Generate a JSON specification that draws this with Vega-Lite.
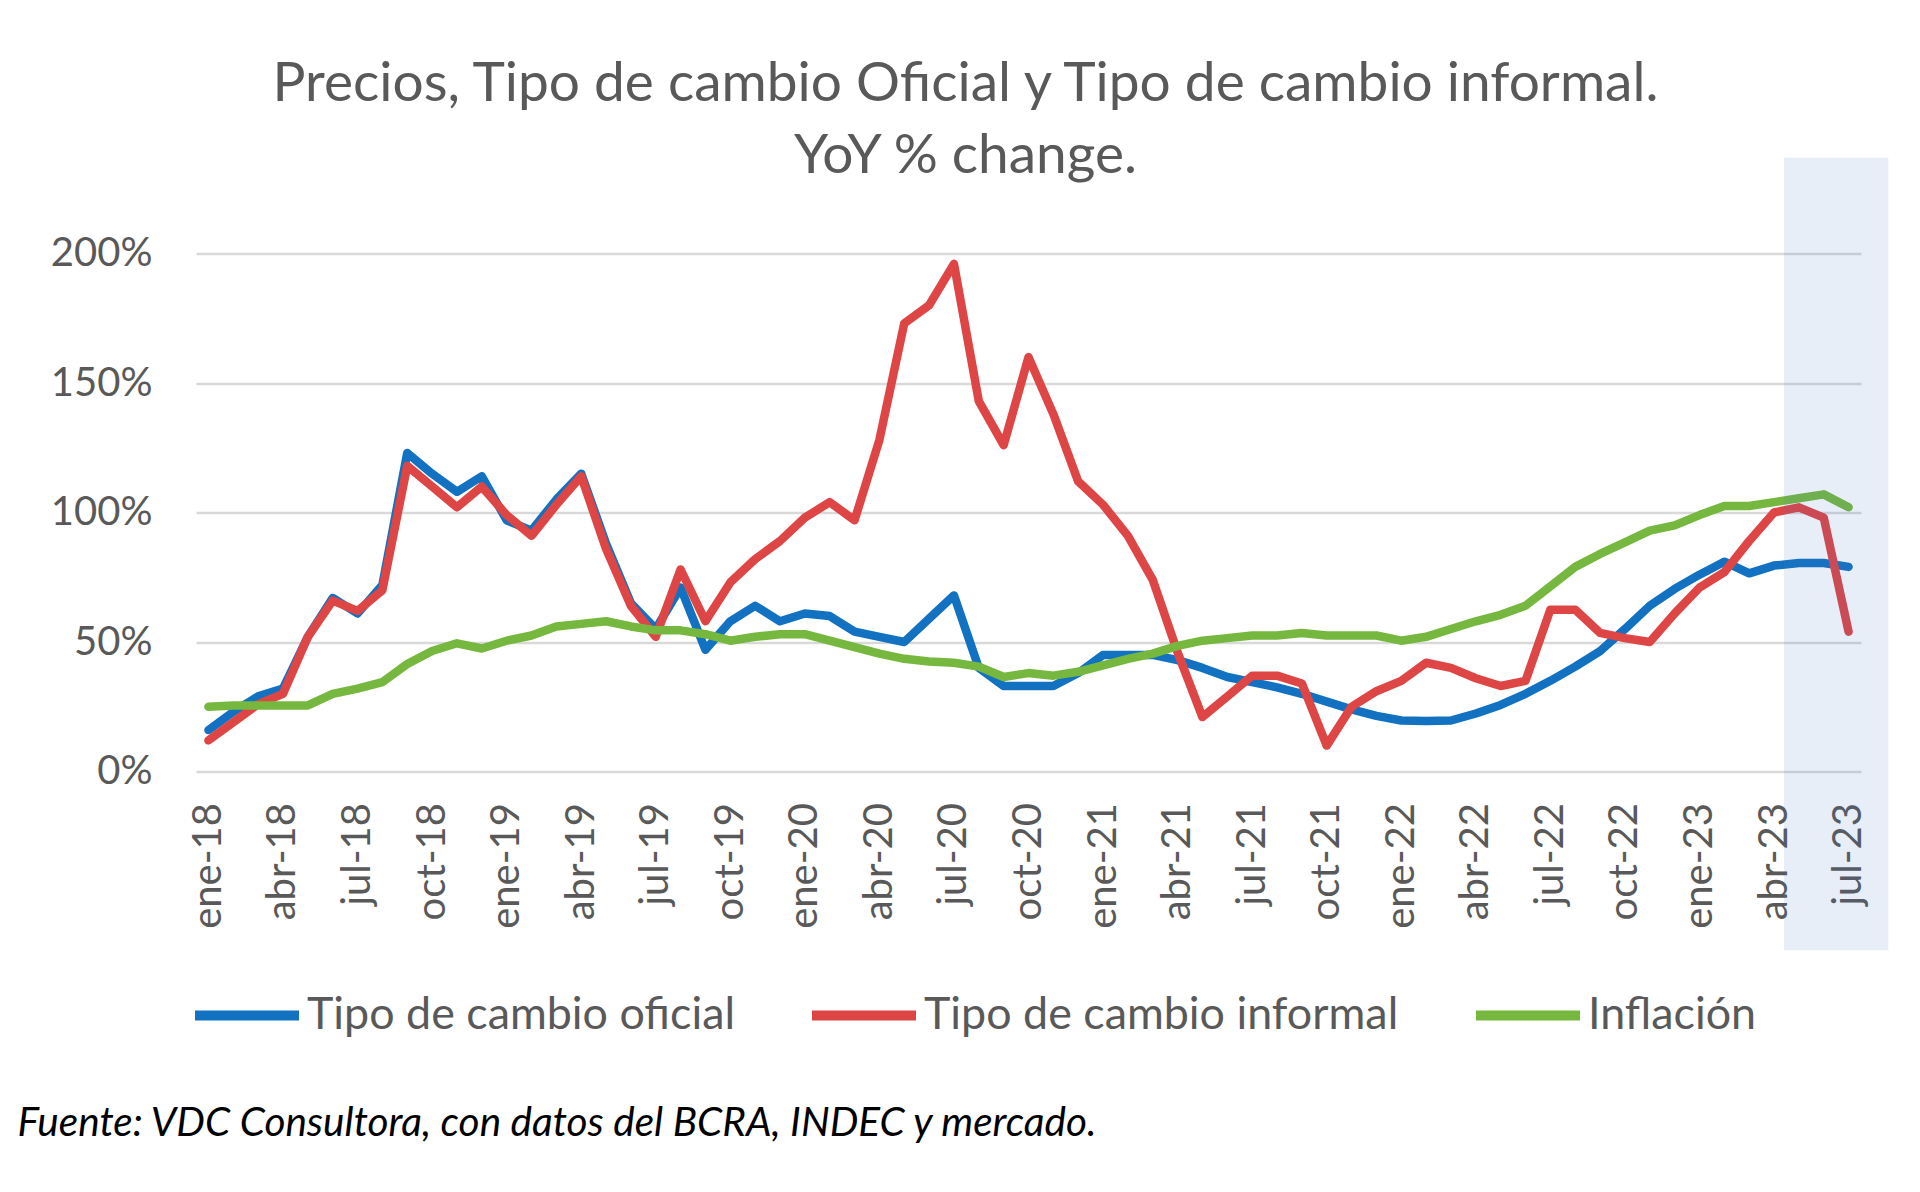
{
  "$schema": "https://vega.github.io/schema/vega-lite/v6.json",
  "width": 1665,
  "height": 518,
  "autosize": {"type": "none"},
  "padding": {"left": 196, "top": 253.5, "right": 59, "bottom": 420.5},
  "background": "white",
  "config": {"view": {"stroke": null}, "font": "Lato"},
  "title": {
    "text": ["Precios, Tipo de cambio Oficial y Tipo de cambio informal.", "YoY % change."],
    "fontSize": 55,
    "lineHeight": 72,
    "font": "Lato",
    "fontWeight": "normal",
    "color": "#595959",
    "anchor": "middle",
    "dx": -63,
    "dy": 97,
    "offset": 70
  },
  "datasets": {
    "series": [
      {"mes": "ene-18", "n": 0, "Tipo de cambio oficial": 16, "Tipo de cambio informal": 12, "Inflación": 25},
      {"mes": "feb-18", "n": 1, "Tipo de cambio oficial": 23, "Tipo de cambio informal": 19, "Inflación": 25.5},
      {"mes": "mar-18", "n": 2, "Tipo de cambio oficial": 29, "Tipo de cambio informal": 26, "Inflación": 25.5},
      {"mes": "abr-18", "n": 3, "Tipo de cambio oficial": 32, "Tipo de cambio informal": 30, "Inflación": 25.5},
      {"mes": "may-18", "n": 4, "Tipo de cambio oficial": 52, "Tipo de cambio informal": 52, "Inflación": 25.5},
      {"mes": "jun-18", "n": 5, "Tipo de cambio oficial": 67, "Tipo de cambio informal": 66, "Inflación": 30},
      {"mes": "jul-18", "n": 6, "Tipo de cambio oficial": 61, "Tipo de cambio informal": 62, "Inflación": 32},
      {"mes": "ago-18", "n": 7, "Tipo de cambio oficial": 72, "Tipo de cambio informal": 70, "Inflación": 34.5},
      {"mes": "sep-18", "n": 8, "Tipo de cambio oficial": 123, "Tipo de cambio informal": 118, "Inflación": 41.5},
      {"mes": "oct-18", "n": 9, "Tipo de cambio oficial": 115, "Tipo de cambio informal": 110, "Inflación": 46.5},
      {"mes": "nov-18", "n": 10, "Tipo de cambio oficial": 108, "Tipo de cambio informal": 102, "Inflación": 49.5},
      {"mes": "dic-18", "n": 11, "Tipo de cambio oficial": 114, "Tipo de cambio informal": 110, "Inflación": 47.5},
      {"mes": "ene-19", "n": 12, "Tipo de cambio oficial": 97, "Tipo de cambio informal": 99, "Inflación": 50.5},
      {"mes": "feb-19", "n": 13, "Tipo de cambio oficial": 93, "Tipo de cambio informal": 91, "Inflación": 52.5},
      {"mes": "mar-19", "n": 14, "Tipo de cambio oficial": 105, "Tipo de cambio informal": 103, "Inflación": 56},
      {"mes": "abr-19", "n": 15, "Tipo de cambio oficial": 115, "Tipo de cambio informal": 114, "Inflación": 57},
      {"mes": "may-19", "n": 16, "Tipo de cambio oficial": 88, "Tipo de cambio informal": 86, "Inflación": 58},
      {"mes": "jun-19", "n": 17, "Tipo de cambio oficial": 65, "Tipo de cambio informal": 64, "Inflación": 56},
      {"mes": "jul-19", "n": 18, "Tipo de cambio oficial": 55, "Tipo de cambio informal": 52, "Inflación": 54.5},
      {"mes": "ago-19", "n": 19, "Tipo de cambio oficial": 71, "Tipo de cambio informal": 78, "Inflación": 54.5},
      {"mes": "sep-19", "n": 20, "Tipo de cambio oficial": 47, "Tipo de cambio informal": 58, "Inflación": 53},
      {"mes": "oct-19", "n": 21, "Tipo de cambio oficial": 58, "Tipo de cambio informal": 73, "Inflación": 50.5},
      {"mes": "nov-19", "n": 22, "Tipo de cambio oficial": 64, "Tipo de cambio informal": 82, "Inflación": 52},
      {"mes": "dic-19", "n": 23, "Tipo de cambio oficial": 58, "Tipo de cambio informal": 89, "Inflación": 53},
      {"mes": "ene-20", "n": 24, "Tipo de cambio oficial": 61, "Tipo de cambio informal": 98, "Inflación": 53},
      {"mes": "feb-20", "n": 25, "Tipo de cambio oficial": 60, "Tipo de cambio informal": 104, "Inflación": 50.5},
      {"mes": "mar-20", "n": 26, "Tipo de cambio oficial": 54, "Tipo de cambio informal": 97, "Inflación": 48},
      {"mes": "abr-20", "n": 27, "Tipo de cambio oficial": 52, "Tipo de cambio informal": 128, "Inflación": 45.5},
      {"mes": "may-20", "n": 28, "Tipo de cambio oficial": 50, "Tipo de cambio informal": 173, "Inflación": 43.5},
      {"mes": "jun-20", "n": 29, "Tipo de cambio oficial": 59, "Tipo de cambio informal": 180, "Inflación": 42.5},
      {"mes": "jul-20", "n": 30, "Tipo de cambio oficial": 68, "Tipo de cambio informal": 196, "Inflación": 42},
      {"mes": "ago-20", "n": 31, "Tipo de cambio oficial": 40, "Tipo de cambio informal": 143, "Inflación": 40.5},
      {"mes": "sep-20", "n": 32, "Tipo de cambio oficial": 33, "Tipo de cambio informal": 126, "Inflación": 36.5},
      {"mes": "oct-20", "n": 33, "Tipo de cambio oficial": 33, "Tipo de cambio informal": 160, "Inflación": 38},
      {"mes": "nov-20", "n": 34, "Tipo de cambio oficial": 33, "Tipo de cambio informal": 138, "Inflación": 37},
      {"mes": "dic-20", "n": 35, "Tipo de cambio oficial": 38, "Tipo de cambio informal": 112, "Inflación": 38.5},
      {"mes": "ene-21", "n": 36, "Tipo de cambio oficial": 45, "Tipo de cambio informal": 103, "Inflación": 41},
      {"mes": "feb-21", "n": 37, "Tipo de cambio oficial": 45, "Tipo de cambio informal": 91, "Inflación": 43.5},
      {"mes": "mar-21", "n": 38, "Tipo de cambio oficial": 45, "Tipo de cambio informal": 74, "Inflación": 45.5},
      {"mes": "abr-21", "n": 39, "Tipo de cambio oficial": 43, "Tipo de cambio informal": 46, "Inflación": 48.5},
      {"mes": "may-21", "n": 40, "Tipo de cambio oficial": 40, "Tipo de cambio informal": 21, "Inflación": 50.5},
      {"mes": "jun-21", "n": 41, "Tipo de cambio oficial": 36.5, "Tipo de cambio informal": 29, "Inflación": 51.5},
      {"mes": "jul-21", "n": 42, "Tipo de cambio oficial": 34.5, "Tipo de cambio informal": 37, "Inflación": 52.5},
      {"mes": "ago-21", "n": 43, "Tipo de cambio oficial": 32.5, "Tipo de cambio informal": 37, "Inflación": 52.5},
      {"mes": "sep-21", "n": 44, "Tipo de cambio oficial": 30, "Tipo de cambio informal": 34, "Inflación": 53.5},
      {"mes": "oct-21", "n": 45, "Tipo de cambio oficial": 27, "Tipo de cambio informal": 10, "Inflación": 52.5},
      {"mes": "nov-21", "n": 46, "Tipo de cambio oficial": 24, "Tipo de cambio informal": 25, "Inflación": 52.5},
      {"mes": "dic-21", "n": 47, "Tipo de cambio oficial": 21.5, "Tipo de cambio informal": 31, "Inflación": 52.5},
      {"mes": "ene-22", "n": 48, "Tipo de cambio oficial": 19.7, "Tipo de cambio informal": 35, "Inflación": 50.5},
      {"mes": "feb-22", "n": 49, "Tipo de cambio oficial": 19.5, "Tipo de cambio informal": 42, "Inflación": 52},
      {"mes": "mar-22", "n": 50, "Tipo de cambio oficial": 19.7, "Tipo de cambio informal": 40, "Inflación": 55},
      {"mes": "abr-22", "n": 51, "Tipo de cambio oficial": 22.4, "Tipo de cambio informal": 36, "Inflación": 58},
      {"mes": "may-22", "n": 52, "Tipo de cambio oficial": 25.7, "Tipo de cambio informal": 33, "Inflación": 60.5},
      {"mes": "jun-22", "n": 53, "Tipo de cambio oficial": 30, "Tipo de cambio informal": 35, "Inflación": 64},
      {"mes": "jul-22", "n": 54, "Tipo de cambio oficial": 35, "Tipo de cambio informal": 62.5, "Inflación": 71.5},
      {"mes": "ago-22", "n": 55, "Tipo de cambio oficial": 40.5, "Tipo de cambio informal": 62.5, "Inflación": 79},
      {"mes": "sep-22", "n": 56, "Tipo de cambio oficial": 46.5, "Tipo de cambio informal": 53.5, "Inflación": 84},
      {"mes": "oct-22", "n": 57, "Tipo de cambio oficial": 55, "Tipo de cambio informal": 51.5, "Inflación": 88.5},
      {"mes": "nov-22", "n": 58, "Tipo de cambio oficial": 64, "Tipo de cambio informal": 50, "Inflación": 93},
      {"mes": "dic-22", "n": 59, "Tipo de cambio oficial": 70.5, "Tipo de cambio informal": 61, "Inflación": 95},
      {"mes": "ene-23", "n": 60, "Tipo de cambio oficial": 76, "Tipo de cambio informal": 71, "Inflación": 99},
      {"mes": "feb-23", "n": 61, "Tipo de cambio oficial": 81, "Tipo de cambio informal": 77, "Inflación": 102.5},
      {"mes": "mar-23", "n": 62, "Tipo de cambio oficial": 76.5, "Tipo de cambio informal": 89, "Inflación": 102.5},
      {"mes": "abr-23", "n": 63, "Tipo de cambio oficial": 79.5, "Tipo de cambio informal": 100, "Inflación": 104},
      {"mes": "may-23", "n": 64, "Tipo de cambio oficial": 80.5, "Tipo de cambio informal": 102, "Inflación": 105.5},
      {"mes": "jun-23", "n": 65, "Tipo de cambio oficial": 80.5, "Tipo de cambio informal": 98, "Inflación": 107},
      {"mes": "jul-23", "n": 66, "Tipo de cambio oficial": 79, "Tipo de cambio informal": 54, "Inflación": 102}
    ],
    "resaltado": [
      {"desde": 63.4, "hasta": 67.6, "arriba": 237, "abajo": -69}
    ]
  },
  "layer": [
    {
      "data": {"name": "series"},
      "transform": [
        {"fold": ["Tipo de cambio oficial", "Tipo de cambio informal", "Inflación"], "as": ["serie", "valor"]}
      ],
      "mark": {"type": "line", "strokeWidth": 8.5, "strokeCap": "round", "strokeJoin": "round"},
      "encoding": {
        "x": {
          "field": "n",
          "type": "quantitative",
          "scale": {"domain": [-0.5, 66.5], "nice": false, "zero": false},
          "axis": {
            "values": [0, 3, 6, 9, 12, 15, 18, 21, 24, 27, 30, 33, 36, 39, 42, 45, 48, 51, 54, 57, 60, 63, 66],
            "labelExpr": "['ene','feb','mar','abr','may','jun','jul','ago','sep','oct','nov','dic'][datum.value % 12] + '-' + (18 + floor(datum.value / 12))",
            "labelAngle": 270,
            "labelAlign": "right",
            "labelBaseline": "middle",
            "labelPadding": 31,
            "labelOverlap": false,
            "labelFlush": false,
            "labelFontSize": 40,
            "labelFont": "Lato",
            "labelColor": "#595959",
            "ticks": false,
            "domain": false,
            "grid": false,
            "title": "Fuente: VDC Consultora, con datos del BCRA, INDEC y mercado.",
            "titleFont": "Lato",
            "titleFontSize": 40.5,
            "titleFontStyle": "italic",
            "titleFontWeight": "normal",
            "titleColor": "#000000",
            "titleAlign": "left",
            "titleBaseline": "middle",
            "titleX": -179,
            "titleY": 352
          }
        },
        "y": {
          "field": "valor",
          "type": "quantitative",
          "scale": {"domain": [0, 200], "nice": false},
          "axis": {
            "values": [0, 50, 100, 150, 200],
            "labelExpr": "datum.value + '%'",
            "labelFontSize": 40,
            "labelFont": "Lato",
            "labelColor": "#595959",
            "labelPadding": 44,
            "labelFlush": false,
            "ticks": false,
            "domain": false,
            "grid": true,
            "gridColor": "#D9D9D9",
            "gridWidth": 2.5,
            "title": null
          }
        },
        "color": {
          "field": "serie",
          "type": "nominal",
          "scale": {
            "domain": ["Tipo de cambio oficial", "Tipo de cambio informal", "Inflación"],
            "range": ["#1272C1", "#DE4646", "#76B83F"]
          },
          "legend": {
            "orient": "none",
            "legendX": -6,
            "legendY": 705,
            "direction": "horizontal",
            "title": null,
            "labelFontSize": 44.8,
            "labelFont": "Lato",
            "labelColor": "#595959",
            "labelLimit": 0,
            "labelOffset": 3,
            "columnPadding": 57,
            "symbolType": "stroke",
            "symbolSize": 10816,
            "symbolStrokeWidth": 10
          }
        }
      }
    },
    {
      "data": {"name": "resaltado"},
      "mark": {"type": "rect", "fill": "#4472C4", "opacity": 0.12, "clip": false},
      "encoding": {
        "x": {"field": "desde", "type": "quantitative"},
        "x2": {"field": "hasta"},
        "y": {"field": "arriba", "type": "quantitative"},
        "y2": {"field": "abajo"}
      }
    }
  ]
}
